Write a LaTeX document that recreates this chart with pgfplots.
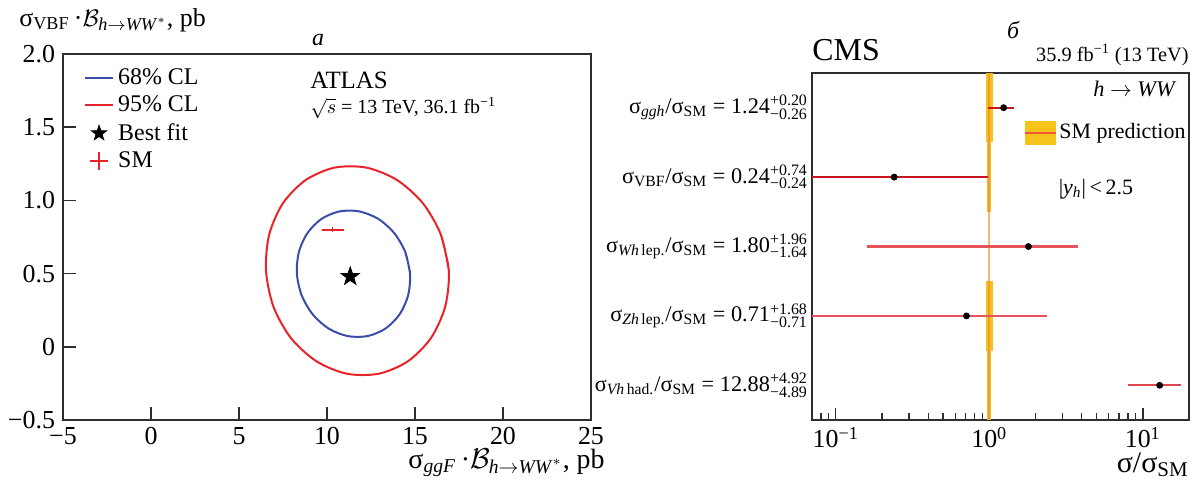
\documentclass[border=0pt]{standalone}
\usepackage{amsmath}
\usepackage{fontspec}
\setmainfont{Liberation Serif}
\usepackage{pgfplots}
\pgfplotsset{compat=1.18}
\definecolor{cblue}{HTML}{3B4DAA}
\definecolor{cred}{HTML}{E8232A}
\definecolor{axgray}{HTML}{2E2E2E}
\definecolor{dred}{HTML}{C8161E}
\definecolor{lred}{HTML}{E4545A}
\definecolor{gold}{HTML}{F6C31B}
\definecolor{smorange}{HTML}{F29A38}
\definecolor{smline}{HTML}{EE5A38}
\newcommand\tickfont{\fontsize{13}{14}\selectfont}
\newcommand\labfont{\fontsize{11.2}{13}\selectfont}
\newcommand\axlabfont{\fontsize{14}{15}\selectfont}
\newcommand\legfont{\fontsize{12}{13}\selectfont}
\newcommand\ud[2]{\rlap{\raisebox{3.8bp}{\fontsize{8}{9}\selectfont #1}}\raisebox{-2.8bp}{\fontsize{8}{9}\selectfont #2}}
\pgfplotsset{
  lineleg/.style={legend image code/.code={\draw[##1] (0cm,0cm) -- (0.5cm,0cm);}},
  markleg/.style={legend image code/.code={\draw[##1] plot coordinates {(0.25cm,0cm)};}},
}
\pgfdeclareplotmark{fstar}{%
  \pgfpathmoveto{\pgfpointpolar{90}{\pgfplotmarksize}}%
  \pgfpathlineto{\pgfpointpolar{126}{0.4\pgfplotmarksize}}%
  \pgfpathlineto{\pgfpointpolar{162}{\pgfplotmarksize}}%
  \pgfpathlineto{\pgfpointpolar{198}{0.4\pgfplotmarksize}}%
  \pgfpathlineto{\pgfpointpolar{234}{\pgfplotmarksize}}%
  \pgfpathlineto{\pgfpointpolar{270}{0.4\pgfplotmarksize}}%
  \pgfpathlineto{\pgfpointpolar{306}{\pgfplotmarksize}}%
  \pgfpathlineto{\pgfpointpolar{342}{0.4\pgfplotmarksize}}%
  \pgfpathlineto{\pgfpointpolar{18}{\pgfplotmarksize}}%
  \pgfpathlineto{\pgfpointpolar{54}{0.4\pgfplotmarksize}}%
  \pgfpathclose
  \pgfusepathqfillstroke
}
\begin{document}
\begin{tikzpicture}
\path[use as bounding box] (0,0) rectangle (599.5bp,241bp);
% ---------------- left panel ----------------
\begin{axis}[
  at={(31.5bp,31bp)}, anchor=south west, scale only axis,
  width=264bp, height=183bp,
  xmin=-5, xmax=25, ymin=-0.5, ymax=2.0,
  xtick={-5,0,5,10,15,20,25},
  xticklabels={\text{−5},\text{0},\text{5},\text{10},\text{15},\text{20},\text{25}},
  ytick={-0.5,0,0.5,1,1.5,2},
  yticklabels={\text{−0.5},\text{0},\text{0.5},\text{1.0},\text{1.5},\text{2.0}},
  xtick pos=bottom, ytick pos=left, tick align=inside,
  major tick length=6.5bp,
  every tick/.style={axgray, line width=0.8bp},
  axis line style={axgray, line width=0.7bp},
  ticklabel style={font=\tickfont},
  yticklabel style={xshift=-0.5bp},
  legend style={at={(0.035,0.978)}, anchor=north west, draw=none, fill=none,
    font=\legfont, row sep=0.3bp, inner sep=1bp},
  legend cell align=left,
]
\addlegendimage{cblue, line width=1bp, lineleg}
\addlegendentry{68\% CL}
\addlegendimage{cred, line width=1bp, lineleg}
\addlegendentry{95\% CL}
\addlegendimage{only marks, mark=fstar, black, mark size=4bp, markleg}
\addlegendentry{Best fit}
\addlegendimage{only marks, mark=+, cred, mark size=4.5bp, line width=0.8bp, markleg}
\addlegendentry{SM}
% 68% contour
\addplot[cblue, line width=1bp, smooth, forget plot] coordinates {
(14.721,0.499) (14.447,0.647) (13.818,0.777) (12.909,0.874) (11.832,0.925)
(10.716,0.925) (9.693,0.874) (8.890,0.777) (8.403,0.647) (8.289,0.499)
(8.563,0.351) (9.192,0.221) (10.101,0.124) (11.178,0.073) (12.294,0.073)
(13.317,0.124) (14.120,0.221) (14.607,0.351) (14.721,0.499) (14.447,0.647)};
% 95% contour
\addplot[cred, line width=1bp, smooth, forget plot] coordinates {
(16.924,0.520) (16.474,0.765) (15.452,0.980) (13.981,1.139) (12.238,1.224)
(10.434,1.224) (8.787,1.139) (7.494,0.980) (6.712,0.765) (6.536,0.520)
(6.955,0.275) (7.950,0.060) (9.401,-0.099) (11.133,-0.184) (12.937,-0.184)
(14.595,-0.099) (15.908,0.060) (16.717,0.275) (16.924,0.520) (16.474,0.765)};
% SM point
\addplot[cred, line width=1bp, forget plot] coordinates {(9.72,0.80) (10.96,0.80)};
\addplot[cred, line width=0.8bp, forget plot] coordinates {(10.32,0.785) (10.32,0.815)};
% best fit
\addplot[only marks, mark=fstar, black, mark size=4.8bp, forget plot] coordinates {(11.32,0.48)};
\node[anchor=west, font=\fontsize{12.5}{13}\selectfont] at (rel axis cs:0.455,0.929) {ATLAS};
\node[anchor=west, font=\fontsize{10}{12}\selectfont] at (rel axis cs:0.455,0.852) {$\sqrt{s}$ = 13 TeV, 36.1 fb\textsuperscript{−1}};
\end{axis}
% ---------------- right panel ----------------
\begin{axis}[
  at={(406bp,31bp)}, anchor=south west, scale only axis,
  width=188.5bp, height=173.5bp,
  xmode=log, xmin=0.07, xmax=20, ymin=0.5, ymax=5.5,
  xtick={0.1,1,10},
  xticklabels={\text{10\textsuperscript{−1}},\text{10\textsuperscript{0}},\text{10\textsuperscript{1}}},
  minor xtick={0.08,0.09,0.2,0.3,0.4,0.5,0.6,0.7,0.8,0.9,2,3,4,5,6,7,8,9},
  ytick={1,2,3,4,5},
  yticklabels={
    {σ\textsubscript{\textit{Vh}\,had.}/σ\textsubscript{SM} = 12.88\ud{+4.92}{−4.89}},
    {σ\textsubscript{\textit{Zh}\,lep.}/σ\textsubscript{SM} = 0.71\ud{+1.68}{−0.71}},
    {σ\textsubscript{\textit{Wh}\,lep.}/σ\textsubscript{SM} = 1.80\ud{+1.96}{−1.64}},
    {σ\textsubscript{VBF}/σ\textsubscript{SM} = 0.24\ud{+0.74}{−0.24}},
    {σ\textsubscript{\textit{ggh}}/σ\textsubscript{SM} = 1.24\ud{+0.20}{−0.26}}},
  xtick pos=bottom, ytick pos=left, tick align=inside,
  major tick length=6bp, minor tick length=3.5bp,
  every tick/.style={axgray, line width=0.7bp},
  ytick style={draw=none},
  axis line style={axgray, line width=0.7bp},
  xticklabel style={font=\tickfont},
  yticklabel style={font=\labfont, xshift=1bp},
]
% SM bands
\addplot[fill=gold, draw=none] coordinates {(0.952,4.5) (1.05,4.5) (1.05,5.5) (0.952,5.5)} -- cycle;
\addplot[fill=gold, draw=none] coordinates {(0.97,3.5) (1.03,3.5) (1.03,4.5) (0.97,4.5)} -- cycle;
\addplot[fill=smorange!45, draw=none] coordinates {(0.985,2.5) (1.015,2.5) (1.015,3.5) (0.985,3.5)} -- cycle;
\addplot[fill=gold, draw=none] coordinates {(0.952,1.5) (1.05,1.5) (1.05,2.5) (0.952,2.5)} -- cycle;
\addplot[fill=gold, draw=none] coordinates {(0.97,0.5) (1.03,0.5) (1.03,1.5) (0.97,1.5)} -- cycle;
\addplot[smorange, line width=1.1bp] coordinates {(1,0.5) (1,2.5)};
\addplot[smorange!70, line width=0.9bp] coordinates {(1,2.5) (1,3.5)};
\addplot[smorange, line width=1.1bp] coordinates {(1,3.5) (1,5.5)};
% error bars
\addplot[dred, line width=1bp] coordinates {(0.98,5) (1.44,5)};
\addplot[dred, line width=1bp] coordinates {(0.05,4) (0.98,4)};
\addplot[lred, line width=1.1bp] coordinates {(0.16,3) (3.76,3)};
\addplot[lred, line width=1.1bp] coordinates {(0.05,2) (2.39,2)};
\addplot[lred!80!dred, line width=1.1bp] coordinates {(7.99,1) (17.8,1)};
% central values
\addplot[only marks, mark=*, black, mark size=1.5bp] coordinates {(1.24,5) (0.24,4) (1.80,3) (0.71,2) (12.88,1)};
% legend and labels
\fill[gold] (rel axis cs:0.565,0.793) rectangle (rel axis cs:0.647,0.862);
\draw[smline, line width=0.7bp] (rel axis cs:0.565,0.8275) -- (rel axis cs:0.647,0.8275);
\node[anchor=west, font=\fontsize{11}{12}\selectfont, inner sep=1bp] at (rel axis cs:0.650,0.8275) {SM prediction};
\node[anchor=east, font=\labfont] at (rel axis cs:0.985,0.955) {\textit{h} $\rightarrow$ \textit{WW}};
\node[font=\fontsize{11}{12}\selectfont] at (rel axis cs:0.753,0.666) {|\textit{y}\textsubscript{\textit{h}}|\,<\,2.5};
\end{axis}
% outer texts
\node[anchor=west, font=\fontsize{13}{14}\selectfont, inner sep=0pt] at (9.5bp,231bp)
  {σ\textsubscript{VBF}\,·$\mathcal{B}_{\text{\textit{h}}\rightarrow\text{\textit{WW}}^{*}}$, pb};
\node[anchor=east, font=\axlabfont, inner sep=0pt] at (302.5bp,9.5bp)
  {σ\textsubscript{\textit{ggF}}\,·$\mathcal{B}_{\text{\textit{h}}\rightarrow\text{\textit{WW}}^{*}}$, pb};
\node[font=\fontsize{12}{13}\itshape\selectfont] at (159bp,221bp) {а};
\node[font=\fontsize{12}{13}\itshape\selectfont] at (506.5bp,226bp) {б};
\node[anchor=west, font=\fontsize{16}{17}\selectfont, inner sep=0pt] at (406bp,216bp) {CMS};
\node[anchor=east, font=\fontsize{10.2}{12}\selectfont, inner sep=0pt] at (594.5bp,213.5bp) {35.9 fb\textsuperscript{−1} (13 TeV)};
\node[anchor=east, font=\fontsize{15}{16}\selectfont, inner sep=0pt] at (594.5bp,8.5bp) {σ/σ\textsubscript{SM}};
\end{tikzpicture}
\end{document}
